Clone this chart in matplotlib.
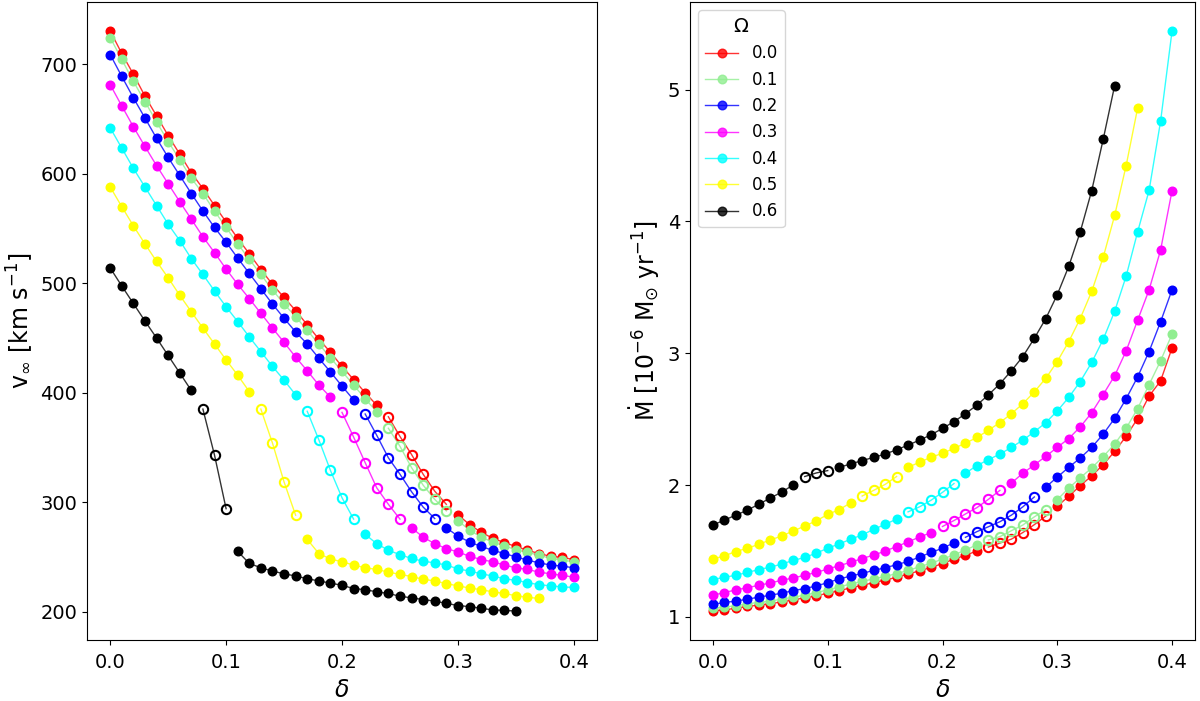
import matplotlib
matplotlib.use("Agg")
import matplotlib.pyplot as plt
from matplotlib.lines import Line2D

# ---------------- data ----------------
DELTA = [0.00, 0.01, 0.02, 0.03, 0.04, 0.05, 0.06, 0.07, 0.08, 0.09,
         0.10, 0.11, 0.12, 0.13, 0.14, 0.15, 0.16, 0.17, 0.18, 0.19,
         0.20, 0.21, 0.22, 0.23, 0.24, 0.25, 0.26, 0.27, 0.28, 0.29,
         0.30, 0.31, 0.32, 0.33, 0.34, 0.35, 0.36, 0.37, 0.38, 0.39, 0.40]

OMEGA = ["0.0", "0.1", "0.2", "0.3", "0.4", "0.5", "0.6"]
COLORS = ["red", "lightgreen", "blue", "magenta", "cyan", "yellow", "black"]

# index range (first, last) of points drawn as open circles
OPEN = [(24, 29), (24, 29), (22, 28), (20, 25), (17, 21), (13, 16), (8, 10)]

# terminal velocity [km/s]
vinf_00 = [730.5, 710, 691, 671, 653, 635, 618, 601, 586.5, 571, 556, 541, 527, 512.5,
           499, 487, 475, 462, 449, 437, 424, 412, 400, 388.5, 378, 360, 343.5, 325.5,
           310, 298, 288.5, 279.5, 272.5, 267, 263, 259.5, 256, 253, 250.5, 249.5, 247.5]
vinf_01 = [724.5, 704.5, 684.5, 666, 647.5, 629.5, 613, 596, 582, 566, 551, 536, 522, 508,
           494, 481, 469.5, 457, 444.5, 432, 419.5, 407, 394.5, 382.5, 367.5, 351, 331.5,
           315.5, 302.5, 292, 283, 274.5, 268, 263.5, 260, 256.5, 254, 251.5, 248.5, 247, 245.5]
vinf_02 = [709, 689, 669.5, 651, 632.5, 615, 598.5, 582, 566, 551, 537.5, 523, 509, 495,
           481, 468, 455.5, 444.5, 431.5, 419, 406, 393.5, 380.5, 361, 340.5, 325.5, 309.5,
           295.5, 285, 276.5, 269, 263.5, 259.5, 256, 253, 250, 247, 244.5, 242.5, 241.5, 240]
vinf_03 = [681.5, 662, 643, 625, 607.5, 591, 574.5, 558.5, 542.5, 528, 513, 499, 486, 472.5,
           459, 446, 432.5, 420, 407, 396, 382, 359.5, 336, 313, 298, 284.5, 276.5, 268,
           262, 257.5, 254.5, 250.5, 247.5, 245.5, 242.5, 240, 238.5, 236, 234.5, 233, 231.5]
vinf_04 = [642, 623.5, 605, 588, 571, 554, 539, 522.5, 508, 493, 478.5, 465, 451, 437.5,
           424, 411.5, 398, 383, 357, 329, 304, 284.5, 270.5, 262, 256, 252, 248.5, 246,
           244.5, 242.5, 239, 237, 234.5, 232.5, 230, 228.5, 226.5, 224.5, 223.5, 222.5, 222]
vinf_05 = [588, 570, 552.5, 536, 520, 505, 489, 474, 459, 444.5, 430, 416, 401, 385,
           354, 318.5, 288, 266, 253, 248, 245.5, 242.5, 240, 238.5, 236, 234, 232, 229.5,
           228, 225.5, 223.5, 221.5, 220, 218, 216.5, 214.5, 213, 212]
vinf_06 = [514, 497.5, 481.5, 465.5, 450, 434, 418, 402, 385, 343, 294, 255, 244, 240,
           237, 234.5, 232.5, 230, 228, 226, 224, 221, 220, 218, 216.5, 214, 212.5, 211,
           209.5, 207.5, 205.5, 204.5, 203, 201.5, 201, 200.5]

# mass-loss rate [1e-6 Msun/yr]
mdot_00 = [1.045, 1.055, 1.065, 1.08, 1.09, 1.10, 1.115, 1.13, 1.145, 1.16, 1.18, 1.20,
           1.22, 1.24, 1.26, 1.28, 1.30, 1.325, 1.35, 1.375, 1.405, 1.438, 1.468, 1.50,
           1.53, 1.56, 1.59, 1.64, 1.70, 1.765, 1.84, 1.915, 1.995, 2.07, 2.155, 2.255,
           2.37, 2.505, 2.675, 2.79, 3.04]
mdot_01 = [1.065, 1.075, 1.085, 1.10, 1.11, 1.12, 1.135, 1.15, 1.165, 1.185, 1.205, 1.228,
           1.25, 1.27, 1.288, 1.308, 1.328, 1.353, 1.38, 1.408, 1.438, 1.471, 1.507, 1.547,
           1.584, 1.609, 1.654, 1.697, 1.759, 1.814, 1.889, 1.977, 2.055, 2.13, 2.216,
           2.311, 2.431, 2.579, 2.762, 2.942, 3.145]
mdot_02 = [1.095, 1.11, 1.12, 1.135, 1.15, 1.165, 1.18, 1.20, 1.215, 1.235, 1.26, 1.288,
           1.31, 1.33, 1.353, 1.373, 1.396, 1.421, 1.454, 1.489, 1.521, 1.562, 1.604, 1.647,
           1.684, 1.722, 1.772, 1.835, 1.91, 1.985, 2.06, 2.135, 2.205, 2.286, 2.386, 2.506,
           2.655, 2.82, 3.013, 3.238, 3.481]
mdot_03 = [1.165, 1.185, 1.205, 1.222, 1.24, 1.258, 1.278, 1.296, 1.316, 1.338, 1.363,
           1.389, 1.414, 1.443, 1.469, 1.499, 1.534, 1.569, 1.606, 1.639, 1.686, 1.731,
           1.781, 1.829, 1.892, 1.96, 2.015, 2.09, 2.153, 2.218, 2.286, 2.353, 2.441, 2.549,
           2.687, 2.829, 3.017, 3.25, 3.481, 3.782, 4.233]
mdot_04 = [1.283, 1.301, 1.316, 1.338, 1.359, 1.378, 1.401, 1.429, 1.451, 1.484, 1.521,
           1.554, 1.589, 1.622, 1.664, 1.702, 1.742, 1.797, 1.835, 1.885, 1.945, 2.012,
           2.09, 2.148, 2.193, 2.235, 2.286, 2.341, 2.404, 2.474, 2.562, 2.665, 2.785, 2.93,
           3.105, 3.318, 3.584, 3.92, 4.235, 4.759, 5.444]
mdot_05 = [1.438, 1.464, 1.496, 1.521, 1.551, 1.584, 1.614, 1.652, 1.689, 1.729, 1.777,
           1.814, 1.865, 1.917, 1.96, 2.005, 2.065, 2.135, 2.173, 2.211, 2.241, 2.278, 2.318,
           2.361, 2.416, 2.474, 2.541, 2.617, 2.707, 2.81, 2.937, 3.088, 3.263, 3.469, 3.727,
           4.045, 4.423, 4.859]
mdot_06 = [1.697, 1.735, 1.772, 1.81, 1.855, 1.902, 1.947, 2.002, 2.065, 2.092, 2.11,
           2.135, 2.16, 2.186, 2.21, 2.235, 2.268, 2.303, 2.341, 2.381, 2.43, 2.481, 2.541,
           2.607, 2.684, 2.768, 2.867, 2.975, 3.113, 3.263, 3.444, 3.659, 3.92, 4.233, 4.622,
           5.03]

VINF = [vinf_00, vinf_01, vinf_02, vinf_03, vinf_04, vinf_05, vinf_06]
MDOT = [mdot_00, mdot_01, mdot_02, mdot_03, mdot_04, mdot_05, mdot_06]

# ---------------- plotting ----------------
plt.rcParams["font.family"] = "DejaVu Sans"
TICK_FS = 14
LABEL_FS = 17
LEG_FS = 12

fig = plt.figure(figsize=(12, 7.01), dpi=100)
axL = fig.add_axes([87 / 1200, 61 / 701, 510 / 1200, 638 / 701])
axR = fig.add_axes([690 / 1200, 61 / 701, 505 / 1200, 638 / 701])

MS = 6.2
LW = 1.0


def draw_series(ax, yvals, color, open_rng):
    n = len(yvals)
    x = DELTA[:n]
    s, e = open_rng
    segments = [(0, s, True), (s, e + 1, False), (e + 1, n, True)]
    for a, b, filled in segments:
        if b <= a:
            continue
        xs = x[a:b]
        ys = yvals[a:b]
        ax.plot(xs, ys, "-", color=color, lw=LW, alpha=0.8, zorder=2)
        if filled:
            ax.plot(xs, ys, "o", color=color, ms=MS, zorder=3)
        else:
            ax.plot(xs, ys, "o", mfc="none", mec=color, mew=1.5, ms=MS + 0.5, zorder=3)


for vals, col, rng in zip(VINF, COLORS, OPEN):
    draw_series(axL, vals, col, rng)
for vals, col, rng in zip(MDOT, COLORS, OPEN):
    draw_series(axR, vals, col, rng)

for ax in (axL, axR):
    ax.set_xticks([0.0, 0.1, 0.2, 0.3, 0.4])
    ax.set_xticklabels(["0.0", "0.1", "0.2", "0.3", "0.4"])
    ax.tick_params(labelsize=TICK_FS)
    ax.tick_params(axis="x", pad=5.5)
    ax.set_xlabel(r"$\delta$", fontsize=LABEL_FS, labelpad=5)

axL.set_yticks([200, 300, 400, 500, 600, 700])
axL.set_ylabel(r"v$_\infty$ [km s$^{-1}$]", fontsize=LABEL_FS)
axR.set_yticks([1, 2, 3, 4, 5])
axR.set_ylabel(r"$\dot{\rm M}$ [10$^{-6}$ M$_{\odot}$ yr$^{-1}$]", fontsize=LABEL_FS)

handles = [Line2D([0], [0], color=c, lw=LW, alpha=0.8, marker="o", ms=MS,
                  mfc=c, mec=c) for c in COLORS]
axR.legend(handles, OMEGA, title=r"$\Omega$", loc="upper left", fontsize=LEG_FS,
           title_fontsize=LEG_FS + 2)

fig.savefig("out.png", dpi=100)
